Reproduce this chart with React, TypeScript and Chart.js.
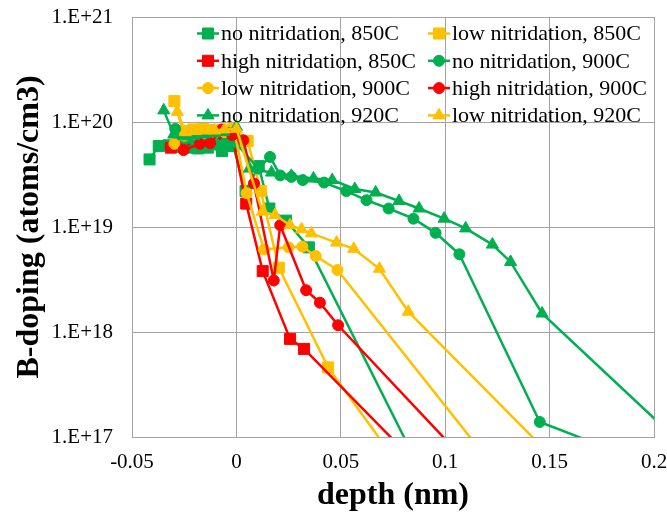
import { useEffect, useRef } from 'react';
import { Chart, registerables } from 'chart.js';

Chart.register(...registerables);

const FONT = "'Liberation Serif', 'Times New Roman', serif";

// ---------- data ----------
const seriesNames = [
  'no nitridation, 850C',
  'low nitridation, 850C',
  'high nitridation, 850C',
  'no nitridation, 900C',
  'low nitridation, 900C',
  'high nitridation, 900C',
  'no nitridation, 920C',
  'low nitridation, 920C',
];

const depthNo850 = [-0.0416, -0.0372, -0.0325, -0.0278, -0.0231, -0.0184, -0.0137, -0.0069, -0.0015, 0.0044, 0.0107, 0.0158, 0.0238, 0.0347, 0.09];
const dopNo850 = [4.4e19, 5.9e19, 6.0e19, 5.8e19, 5.7e19, 5.6e19, 5.7e19, 5.3e19, 5.9e19, 2.2e19, 3.8e19, 1.5e19, 1.15e19, 6.4e18, 4.1e16];

const depthLow850 = [-0.0297, -0.0255, -0.0207, -0.0159, -0.0111, -0.0063, -0.0015, 0.0054, 0.0117, 0.0203, 0.0439, 0.09];
const dopLow850 = [1.58e20, 8.2e19, 8.5e19, 8.6e19, 8.4e19, 8.3e19, 8.6e19, 6.6e19, 2.2e19, 4.1e18, 4.6e17, 2.5e16];

const depthHigh850 = [-0.0314, -0.0262, -0.0214, -0.0166, -0.0118, -0.007, -0.0022, 0.0047, 0.0126, 0.0257, 0.0324, 0.09];
const dopHigh850 = [5.7e19, 6.4e19, 6.8e19, 7.0e19, 7.3e19, 7.6e19, 7.8e19, 1.67e19, 3.8e18, 8.6e17, 6.9e17, 4.7e16];

const depthNo900 = [-0.0293, -0.0245, -0.0197, -0.0149, -0.0101, -0.0053, -0.0005, 0.0105, 0.0161, 0.021, 0.0263, 0.0318, 0.042, 0.0526, 0.0623, 0.0729, 0.0848, 0.0954, 0.1068, 0.1453, 0.2];
const dopNo900 = [8.6e19, 6.9e19, 6.4e19, 6.2e19, 6.2e19, 6.3e19, 6.4e19, 3.6e19, 4.65e19, 3.1e19, 3.0e19, 2.8e19, 2.65e19, 2.2e19, 1.8e19, 1.5e19, 1.2e19, 8.8e18, 5.5e18, 1.39e17, 5.3e16];

const depthLow900 = [-0.0297, -0.0249, -0.0201, -0.0153, -0.0105, -0.0057, -0.0009, 0.0049, 0.0132, 0.025, 0.0316, 0.038, 0.0484, 0.13];
const dopLow900 = [6.2e19, 7.4e19, 7.7e19, 7.8e19, 7.9e19, 8.0e19, 8.2e19, 2.1e19, 6.1e18, 6.4e18, 6.5e18, 5.3e18, 3.9e18, 3.5e16];

const depthHigh900 = [-0.0253, -0.0175, -0.0126, -0.0069, -0.002, 0.0033, 0.0084, 0.0179, 0.021, 0.0334, 0.04, 0.0487, 0.12];
const dopHigh900 = [5.4e19, 6.2e19, 6.3e19, 8.5e19, 7.5e19, 6.7e19, 2.6e19, 3.1e18, 1.04e19, 2.5e18, 1.9e18, 1.16e18, 3.6e16];

const depthNo920 = [-0.0348, -0.03, -0.0252, -0.0204, -0.0156, -0.0108, -0.006, 0.0, 0.0062, 0.0168, 0.0263, 0.0369, 0.0459, 0.0567, 0.0667, 0.0779, 0.0875, 0.0995, 0.1098, 0.1226, 0.1313, 0.1464, 0.22];
const dopNo920 = [1.29e20, 7.6e19, 7.3e19, 7.4e19, 7.6e19, 7.8e19, 8.0e19, 9.0e19, 3.6e19, 3.3e19, 3.07e19, 2.9e19, 2.8e19, 2.3e19, 2.13e19, 1.77e19, 1.5e19, 1.2e19, 9.7e18, 6.8e18, 4.65e18, 1.5e18, 6.4e16];

const depthLow920 = [-0.0283, -0.0245, -0.0198, -0.0151, -0.0104, -0.0057, 0.0, 0.0124, 0.0185, 0.0257, 0.0312, 0.0359, 0.048, 0.0562, 0.0685, 0.0823, 0.16];
const dopLow920 = [1.25e20, 8.0e19, 8.2e19, 8.3e19, 8.3e19, 8.5e19, 8.6e19, 1.4e19, 1.3e19, 1.04e19, 9.5e18, 8.7e18, 7.1e18, 6.2e18, 4.0e18, 1.56e18, 4.3e16];

const xTicks = [-0.05, 0, 0.05, 0.1, 0.15, 0.2];
const xTickLabels = ['-0.05', '0', '0.05', '0.1', '0.15', '0.2'];
const yTicks = [1e17, 1e18, 1e19, 1e20, 1e21];
const yTickLabels = ['1.E+17', '1.E+18', '1.E+19', '1.E+20', '1.E+21'];

// ---------- styles ----------
const GREEN = '#00B050';
const RED = '#FF0000';
const YELLOW = '#FFC000';
const GRID = '#a3a3a3';

const seriesDepths = [depthNo850, depthLow850, depthHigh850, depthNo900, depthLow900, depthHigh900, depthNo920, depthLow920];
const seriesDops = [dopNo850, dopLow850, dopHigh850, dopNo900, dopLow900, dopHigh900, dopNo920, dopLow920];
const seriesColors = [GREEN, YELLOW, RED, GREEN, YELLOW, RED, GREEN, YELLOW];
const seriesStyles = ['rect', 'rect', 'rect', 'circle', 'circle', 'circle', 'triangle', 'triangle'];
const markerRadius: Record<string, number> = { rect: 7.8, circle: 5.5, triangle: 7 };

function drawMarker(ctx: CanvasRenderingContext2D, style: string, x: number, y: number, r: number, color: string) {
  ctx.save();
  ctx.fillStyle = color;
  ctx.strokeStyle = color;
  ctx.lineWidth = 1;
  ctx.beginPath();
  if (style === 'rect') {
    const s = r * Math.SQRT1_2;
    ctx.rect(x - s, y - s, 2 * s, 2 * s);
  } else if (style === 'circle') {
    ctx.arc(x, y, r, 0, Math.PI * 2);
  } else {
    let rad = 0;
    ctx.moveTo(x + Math.sin(rad) * r, y - Math.cos(rad) * r);
    rad += (2 * Math.PI) / 3;
    ctx.lineTo(x + Math.sin(rad) * r, y - Math.cos(rad) * r);
    rad += (2 * Math.PI) / 3;
    ctx.lineTo(x + Math.sin(rad) * r, y - Math.cos(rad) * r);
    ctx.closePath();
  }
  ctx.fill();
  ctx.stroke();
  ctx.restore();
}

const gridLegend = {
  id: 'gridLegend',
  afterDraw(chart: any) {
    const { ctx, chartArea: ca } = chart;
    ctx.save();
    ctx.font = `22px ${FONT}`;
    ctx.textBaseline = 'middle';
    ctx.textAlign = 'left';
    chart.data.datasets.forEach((ds: any, i: number) => {
      const col = i % 2;
      const row = Math.floor(i / 2);
      const x0 = ca.left + (col ? 296 : 65);
      const y = ca.top + 16.5 + row * 27.3;
      ctx.strokeStyle = ds.borderColor;
      ctx.lineWidth = 2.5;
      ctx.beginPath();
      ctx.moveTo(x0, y);
      ctx.lineTo(x0 + 22, y);
      ctx.stroke();
      drawMarker(ctx, ds.pointStyle, x0 + 11, y, ds.pointRadius, ds.borderColor);
      ctx.fillStyle = '#000';
      ctx.fillText(ds.label, x0 + 24, y + 1);
    });
    ctx.restore();
  },
};

export default function App() {
  const ref = useRef<HTMLCanvasElement>(null);

  useEffect(() => {
    if (!ref.current) return;
    const n = seriesNames.length;
    const datasets = seriesNames.map((name, i) => ({
      label: name,
      data: seriesDepths[i].map((x, j) => ({ x, y: seriesDops[i][j] })),
      borderColor: seriesColors[i],
      backgroundColor: seriesColors[i],
      pointBackgroundColor: seriesColors[i],
      pointBorderColor: seriesColors[i],
      pointStyle: seriesStyles[i],
      pointRadius: markerRadius[seriesStyles[i]],
      pointBorderWidth: 1,
      borderWidth: 2.5,
      tension: 0,
      clip: 0,
      order: n - i,
    }));

    const chart = new Chart(ref.current, {
      type: 'line',
      data: { datasets } as any,
      options: {
        animation: false,
        responsive: false,
        devicePixelRatio: 1,
        layout: { padding: { left: 0, right: 13, top: 17, bottom: 0 } },
        plugins: {
          legend: { display: false },
          tooltip: { enabled: false },
        },
        scales: {
          x: {
            type: 'linear',
            min: -0.05,
            max: 0.2,
            afterBuildTicks: (s: any) => {
              s.ticks = xTicks.map((v) => ({ value: v }));
            },
            afterFit: (s: any) => {
              s.height = 80;
              s.paddingLeft = 0;
              s.paddingRight = 0;
            },
            ticks: {
              autoSkip: false,
              maxRotation: 0,
              padding: 13,
              color: '#000',
              font: { family: FONT, size: 21 },
              callback: (_v: any, i: number) => xTickLabels[i],
            },
            grid: { color: GRID, lineWidth: 1, drawTicks: false },
            border: { display: true, color: GRID, width: 1 },
            title: {
              display: true,
              text: 'depth (nm)',
              color: '#000',
              font: { family: FONT, size: 32, weight: 'bold' },
              padding: { top: 0, bottom: 2 },
            },
          },
          y: {
            type: 'logarithmic',
            min: 1e17,
            max: 1e21,
            afterBuildTicks: (s: any) => {
              s.ticks = yTicks.map((v) => ({ value: v }));
            },
            afterFit: (s: any) => {
              s.width = 132;
              s.paddingTop = 0;
              s.paddingBottom = 0;
            },
            ticks: {
              autoSkip: false,
              padding: 19,
              color: '#000',
              font: { family: FONT, size: 21 },
              callback: (_v: any, i: number) => yTickLabels[i],
            },
            grid: { color: GRID, lineWidth: 1, drawTicks: false },
            border: { display: true, color: GRID, width: 1 },
            title: {
              display: true,
              text: 'B-doping (atoms/cm3)',
              color: '#000',
              font: { family: FONT, size: 32, weight: 'bold' },
              padding: { top: 11, bottom: 0 },
            },
          },
        },
      } as any,
      plugins: [gridLegend],
    });
    return () => chart.destroy();
  }, []);

  return (
    <div style={{ position: 'fixed', left: 0, top: 0, width: 667, height: 517, background: '#fff' }}>
      <canvas ref={ref} width={667} height={517} style={{ display: 'block' }} />
    </div>
  );
}
